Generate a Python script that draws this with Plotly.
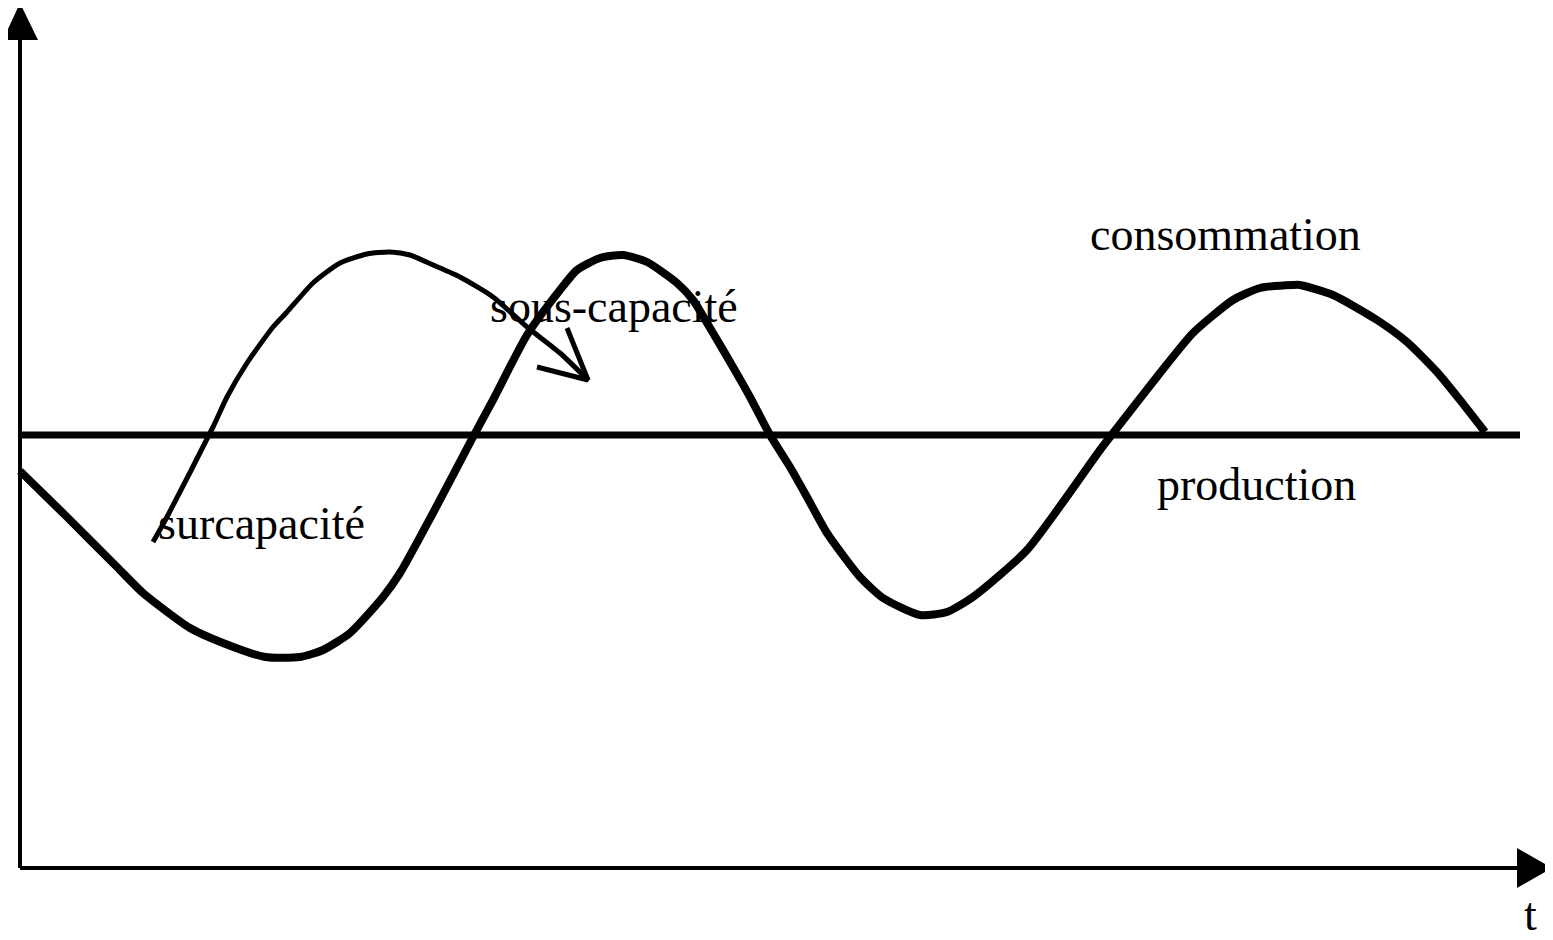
import plotly.graph_objects as go

# Consommation (courbe épaisse) : t et niveau, origine au coin des axes
t_conso = [0, 47, 97, 123, 170, 203, 245, 280, 303, 330, 363, 380, 413, 453, 473,
           507, 540, 557, 580, 603, 627, 657, 673, 693, 713, 730, 750, 770, 787,
           807, 840, 863, 900, 927, 953, 1007, 1080, 1090, 1140, 1173, 1213,
           1240, 1273, 1280, 1313, 1357, 1387, 1417, 1440, 1465]
conso = [397, 351, 301, 275, 240, 225, 211, 211, 218, 235, 271, 295, 355, 431, 468,
         533, 578, 598, 610, 613, 606, 585, 568, 535, 501, 471, 433, 401, 371,
         335, 291, 270, 253, 256, 271, 318, 418, 431, 495, 535, 568,
         580, 583, 583, 573, 548, 526, 496, 468, 436]

# Production (niveau constant)
t_prod = [0, 1500]
prod = [433, 433]

# Trajectoire surcapacité -> sous-capacité (courbe fine)
t_traj = [133, 147, 193, 207, 227, 253, 267, 293, 320, 347, 370, 390, 413, 440,
          473, 507, 540, 568]
traj = [326, 351, 441, 471, 505, 541, 556, 585, 605, 614, 616, 613, 603, 591,
        571, 541, 515, 488]

# Pointe de flèche de la trajectoire
t_tete = [517, 568, 547]
tete = [501, 488, 540]

noir = 'black'
police = {'family': 'Liberation Serif, Times New Roman, serif', 'size': 46, 'color': noir}

fig = go.Figure()
fig.add_trace(go.Scatter(x=t_prod, y=prod, mode='lines', line={'color': noir, 'width': 7}))
fig.add_trace(go.Scatter(x=t_conso, y=conso, mode='lines',
                         line={'color': noir, 'width': 8, 'shape': 'spline', 'smoothing': 0.6}))
fig.add_trace(go.Scatter(x=t_traj, y=traj, mode='lines',
                         line={'color': noir, 'width': 5, 'shape': 'spline', 'smoothing': 0.6}))
fig.add_trace(go.Scatter(x=t_tete, y=tete, mode='lines', line={'color': noir, 'width': 5}))

# Axes avec flèches
axes = [
    {'type': 'line', 'x0': 0, 'y0': 0, 'x1': 0, 'y1': 830, 'line': {'color': noir, 'width': 4}},
    {'type': 'line', 'x0': 0, 'y0': 0, 'x1': 1498, 'y1': 0, 'line': {'color': noir, 'width': 4}},
    {'type': 'path', 'path': 'M -17,828 L 18,828 L 0,865 Z', 'fillcolor': noir, 'line': {'width': 0}},
    {'type': 'path', 'path': 'M 1497,20 L 1497,-20 L 1532,0 Z', 'fillcolor': noir, 'line': {'width': 0}},
]

labels = [
    ('consommation', 1205, 634),
    ('sous-capacité', 594, 562),
    ('surcapacité', 241, 345),
    ('production', 1236, 384),
    ('t', 1510, -46),
]

# la page ajoute une marge de 8 px autour de la figure
fig.update_layout(
    width=1545, height=932,
    margin={'l': 0, 'r': 0, 't': 0, 'b': 0},
    paper_bgcolor='white', plot_bgcolor='white',
    showlegend=False,
    xaxis={'range': [-12, 1533], 'visible': False},
    yaxis={'range': [-72, 860], 'visible': False},
    shapes=axes,
    annotations=[
        {'text': txt, 'x': x, 'y': y, 'showarrow': False, 'font': police,
         'xanchor': 'center', 'yanchor': 'middle'}
        for txt, x, y in labels
    ],
)

fig.write_html("out.html")
